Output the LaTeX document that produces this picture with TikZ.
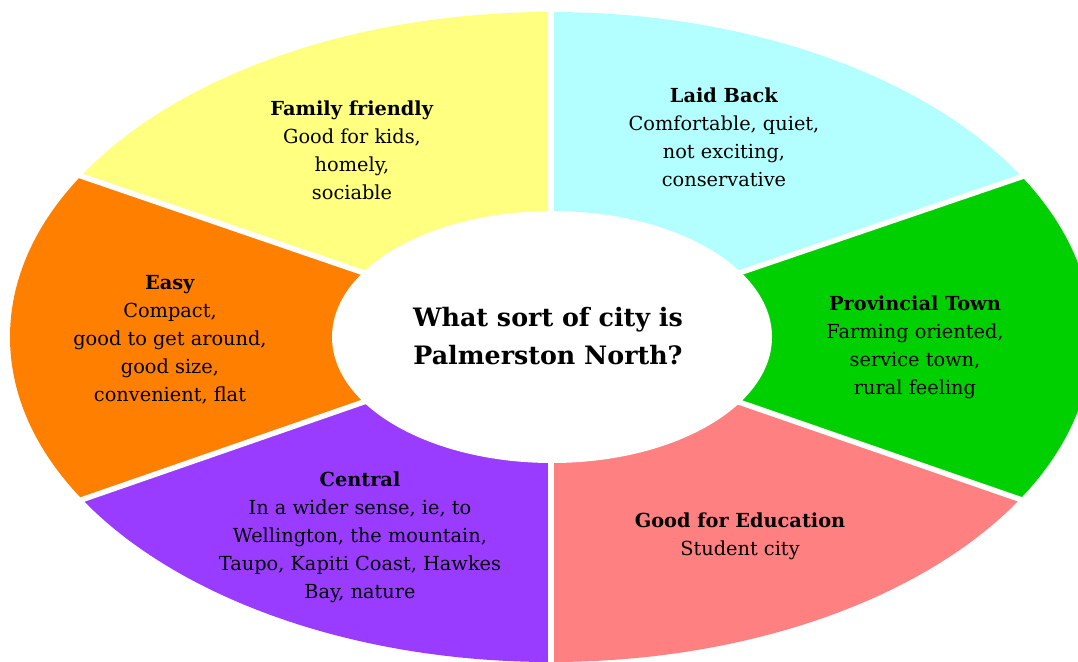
\documentclass[tikz,border=0pt]{standalone}
\usepackage{fontspec}
\setmainfont{DejaVu Serif}
\definecolor{famyellow}{HTML}{FFFF80}
\definecolor{laidcyan}{HTML}{B3FFFF}
\definecolor{provgreen}{HTML}{00D000}
\definecolor{edusalmon}{HTML}{FF8080}
\definecolor{centpurple}{HTML}{9A3CFF}
\definecolor{easyorange}{HTML}{FF8000}
\tikzset{
  seglabel/.style={align=center, font=\fontsize{14.5}{21}\selectfont, inner sep=0pt},
  hublabel/.style={align=center, font=\fontsize{19}{28.5}\selectfont\bfseries, inner sep=0pt},
  gap/.style={white, line width=4.1pt}
}
\begin{document}
\begin{tikzpicture}[x=0.75pt, y=-0.75pt]
  \useasboundingbox (0,0) rectangle (1078,661);
  \clip (0,0) rectangle (1078,661);
  \coordinate (c) at (551,337);
  % coloured ring, split into six sectors
  \begin{scope}
    \clip (c) ellipse [x radius=541, y radius=325];
    \fill[famyellow]  (c) -- (-859,-146) -- (-859,-1000) -- (551,-1000) -- cycle;
    \fill[laidcyan]   (c) -- (551,-1000) -- (1961,-1000) -- (1961,-146) -- cycle;
    \fill[provgreen]  (c) -- (1961,-146) -- (1961,826) -- cycle;
    \fill[edusalmon]  (c) -- (1961,826) -- (1961,1700) -- (551,1700) -- cycle;
    \fill[centpurple] (c) -- (551,1700) -- (-859,1700) -- (-859,826) -- cycle;
    \fill[easyorange] (c) -- (-859,826) -- (-859,-146) -- cycle;
  \end{scope}
  % white separators between sectors
  \draw[gap] (c) -- ++(0,-400);
  \draw[gap] (c) -- ++(0,400);
  \draw[gap] (c) -- ++(-940,-322);
  \draw[gap] (c) -- ++(-940,326);
  \draw[gap] (c) -- ++(934,-318);
  \draw[gap] (c) -- ++(942,326);
  % central hub
  \fill[white] (552,337) ellipse [x radius=220, y radius=126];
  \node[hublabel] (hub) at (548,336) {What sort of city is\\Palmerston North?};
  % sector labels
  \node[seglabel] (family) at (352,150) {\textbf{Family friendly}\\Good for kids,\\homely,\\sociable};
  \node[seglabel] (laid) at (724,137) {\textbf{Laid Back}\\Comfortable, quiet,\\not exciting,\\conservative};
  \node[seglabel] (prov) at (915,347) {\textbf{Provincial Town}\\Farming oriented,\\service town,\\rural feeling};
  \node[seglabel] (edu) at (740,536) {\textbf{Good for Education}\\Student city};
  \node[seglabel] (central) at (360,537) {\textbf{Central}\\In a wider sense, ie, to\\Wellington, the mountain,\\Taupo, Kapiti Coast, Hawkes\\Bay, nature};
  \node[seglabel] (easy) at (170,340) {\textbf{Easy}\\Compact,\\good to get around,\\good size,\\convenient, flat};
\end{tikzpicture}
\end{document}
